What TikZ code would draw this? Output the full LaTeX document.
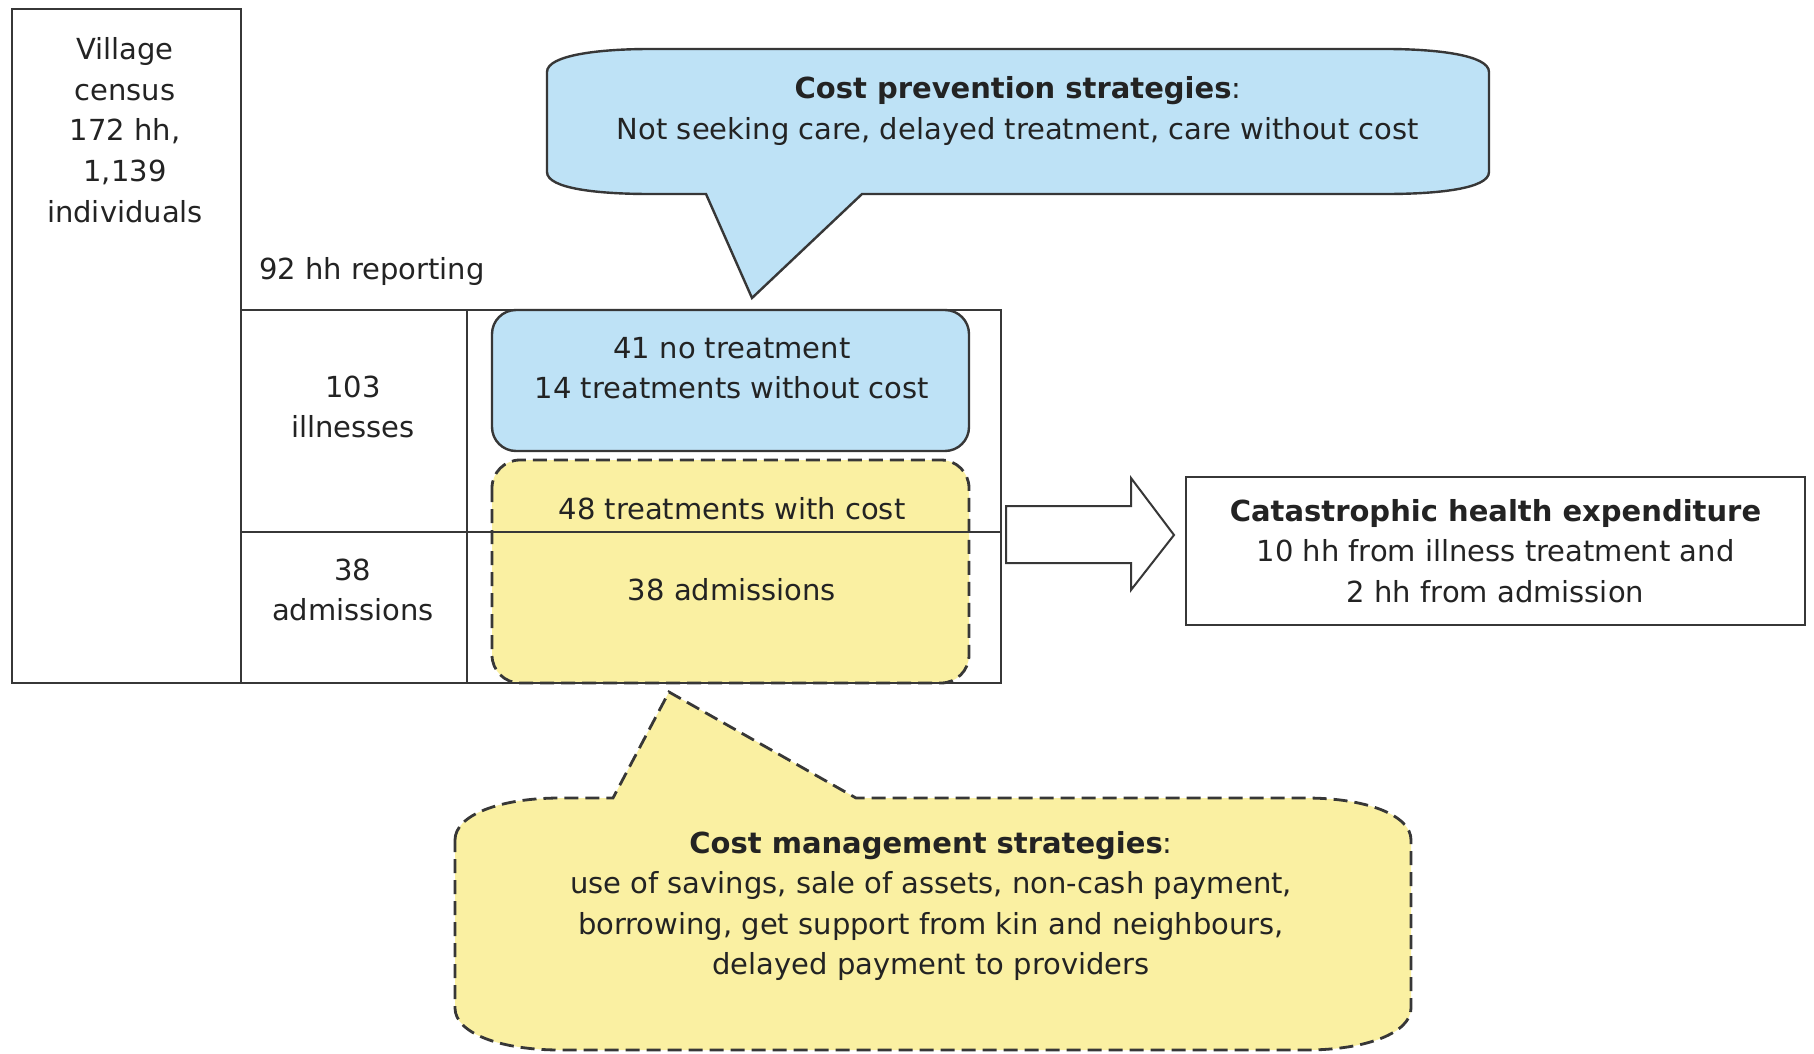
\documentclass[tikz,border=0pt]{standalone}
\usepackage{fontspec}
\setmainfont{DejaVu Sans}
\definecolor{linegray}{RGB}{55,55,55}
\definecolor{inkgray}{RGB}{35,35,35}
\definecolor{calloutblue}{RGB}{190,226,246}
\definecolor{calloutyellow}{RGB}{250,240,162}

\begin{document}
\begin{tikzpicture}[x=0.5pt,y=-0.5pt,
  every node/.style={align=center,inner sep=0pt,text=inkgray,font=\fontsize{14.5}{20.3}\selectfont},
  grid/.style={linegray,line width=1pt},
  dashbox/.style={draw=linegray,line width=1.4pt,dash pattern=on 7pt off 3.5pt}]
\fill[white] (0,0) rectangle (1814,1054);
\useasboundingbox (0,0) rectangle (1814,1054);
\filldraw[fill=calloutblue,draw=linegray,line width=1.2pt] (547,72) .. controls (547,55) and (600,49) .. (650,49) -- (1386,49) .. controls (1436,49) and (1489,55) .. (1489,72) -- (1489,172) .. controls (1489,189) and (1436,194) .. (1386,194) -- (862,194) -- (752,298) -- (706,194) -- (650,194) .. controls (600,194) and (547,189) .. (547,172) -- cycle;
\filldraw[fill=calloutyellow,dashbox] (455,840) .. controls (455,815) and (500,798) .. (560,798) -- (613,798) -- (669,692) -- (856,798) -- (1306,798) .. controls (1366,798) and (1411,815) .. (1411,840) -- (1411,1008) .. controls (1411,1033) and (1366,1050) .. (1306,1050) -- (560,1050) .. controls (500,1050) and (455,1033) .. (455,1008) -- cycle;
\filldraw[fill=calloutblue,draw=linegray,line width=1.2pt,rounded corners=12pt] (492,310) rectangle (969,451);
\filldraw[fill=calloutyellow,dashbox,rounded corners=14pt] (492,460) rectangle (969,683);
\draw[grid] (12,9) rectangle (241,683);
\draw[grid] (241,310) -- (1001,310);
\draw[grid] (241,532) -- (1001,532);
\draw[grid] (241,683) -- (1001,683);
\draw[grid] (467,310) rectangle (1001,683);
\filldraw[fill=white,draw=linegray,line width=1pt] (1006,506) -- (1131,506) -- (1131,478) -- (1174,535) -- (1131,590) -- (1131,563) -- (1006,563) -- cycle;
\node[draw=linegray,line width=1pt,minimum width=309.5pt,minimum height=74pt] (catastrophic) at (1495.5,551) {\textbf{Catastrophic health expenditure}\\10 hh from illness treatment and\\2 hh from admission};
\node (village) at (125,130) {Village\\census\\172 hh,\\1,139\\individuals};
\node (reporting) at (372,271) {92 hh reporting};
\node (illnesses) at (353,407) {103\\illnesses};
\node (admissions) at (353,590) {38\\admissions};
\node (notreat) at (732,368) {41 no treatment\\14 treatments without cost};
\node (withcost) at (732,509) {48 treatments with cost};
\node (admitted) at (732,590) {38 admissions};
\node (prevention) at (1018,111) {\textbf{Cost prevention strategies}:\\Not seeking care, delayed treatment, care without cost};
\node (management) at (931,906) {\textbf{Cost management strategies}:\\use of savings, sale of assets, non-cash payment,\\borrowing, get support from kin and neighbours,\\delayed payment to providers};
\end{tikzpicture}
\end{document}
